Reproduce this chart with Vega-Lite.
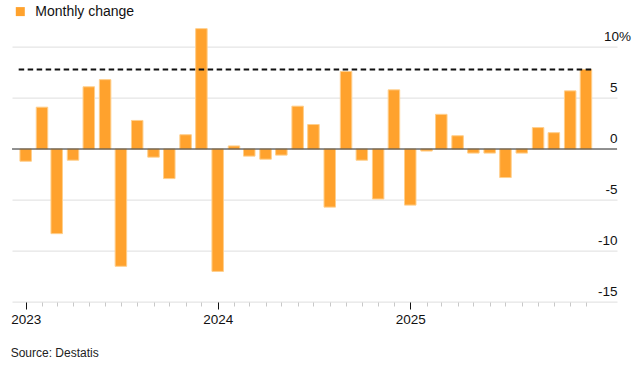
{
  "$schema": "https://vega.github.io/schema/vega-lite/v6.json",
  "width": 605,
  "height": 275.4,
  "autosize": {"type": "none"},
  "padding": {"left": 12, "top": 26.6, "right": 25, "bottom": 65},
  "background": "white",
  "config": {"font": "Liberation Sans", "view": {"stroke": null}},
  "title": {"text": "Source: Destatis", "orient": "bottom", "anchor": "start", "fontSize": 12, "fontWeight": "normal", "color": "#222", "offset": 22},
  "datasets": {
    "monthly": [
      {"month": "2023-01-01", "change": -1.2},
      {"month": "2023-02-01", "change": 4.1},
      {"month": "2023-03-01", "change": -8.3},
      {"month": "2023-04-01", "change": -1.1},
      {"month": "2023-05-01", "change": 6.1},
      {"month": "2023-06-01", "change": 6.8},
      {"month": "2023-07-01", "change": -11.5},
      {"month": "2023-08-01", "change": 2.8},
      {"month": "2023-09-01", "change": -0.8},
      {"month": "2023-10-01", "change": -2.9},
      {"month": "2023-11-01", "change": 1.4},
      {"month": "2023-12-01", "change": 11.8},
      {"month": "2024-01-01", "change": -12.0},
      {"month": "2024-02-01", "change": 0.3},
      {"month": "2024-03-01", "change": -0.7},
      {"month": "2024-04-01", "change": -1.0},
      {"month": "2024-05-01", "change": -0.6},
      {"month": "2024-06-01", "change": 4.2},
      {"month": "2024-07-01", "change": 2.4},
      {"month": "2024-08-01", "change": -5.7},
      {"month": "2024-09-01", "change": 7.6},
      {"month": "2024-10-01", "change": -1.1},
      {"month": "2024-11-01", "change": -4.9},
      {"month": "2024-12-01", "change": 5.8},
      {"month": "2025-01-01", "change": -5.5},
      {"month": "2025-02-01", "change": -0.2},
      {"month": "2025-03-01", "change": 3.4},
      {"month": "2025-04-01", "change": 1.3},
      {"month": "2025-05-01", "change": -0.4},
      {"month": "2025-06-01", "change": -0.4},
      {"month": "2025-07-01", "change": -2.8},
      {"month": "2025-08-01", "change": -0.4},
      {"month": "2025-09-01", "change": 2.1},
      {"month": "2025-10-01", "change": 1.6},
      {"month": "2025-11-01", "change": 5.7},
      {"month": "2025-12-01", "change": 7.8}
    ],
    "zero": [{"value": 0}],
    "level": [{"start": "2023-01-01", "end": "2025-12-01", "value": 7.8}]
  },
  "layer": [
    {
      "data": {"name": "monthly"},
      "mark": {"type": "bar", "size": 11.5, "stroke": "#ffcf8c", "strokeWidth": 1},
      "encoding": {
        "x": {
          "field": "month",
          "type": "temporal",
          "scale": {"type": "utc", "padding": 0, "domain": [{"year": 2022, "month": 12, "date": 6, "utc": true}, {"year": 2026, "month": 1, "date": 29, "utc": true}]},
          "axis": {
            "title": null,
            "domain": false,
            "grid": false,
            "tickCount": {"interval": "month", "step": 1},
            "labelExpr": "utcmonth(datum.value) == 0 && utcyear(datum.value) < 2026 ? utcFormat(datum.value, '%Y') : ''",
            "tickSize": {"condition": {"test": "utcmonth(datum.value) == 0", "value": 7}, "value": 4},
            "tickColor": {"condition": {"test": "utcmonth(datum.value) == 0", "value": "#111111"}, "value": "#c8c8c8"},
            "tickOpacity": {"condition": {"test": "utcyear(datum.value) >= 2026", "value": 0}, "value": 1},
            "tickWidth": 1,
            "labelFontSize": 13.5,
            "labelColor": "#111111",
            "labelPadding": 3,
            "labelFlush": false,
            "labelOverlap": false
          }
        },
        "y": {
          "field": "change",
          "type": "quantitative",
          "scale": {"domain": [-15, 12], "nice": false, "zero": false},
          "axis": {
            "orient": "right",
            "title": null,
            "values": [-15, -10, -5, 0, 5, 10],
            "domain": false,
            "ticks": false,
            "grid": true,
            "gridColor": "#dedede",
            "gridWidth": 1,
            "labelAlign": {"condition": {"test": "datum.value == 10", "value": "center"}, "value": "right"},
            "labelBaseline": "alphabetic",
            "labelOffset": -7,
            "labelPadding": 0,
            "labelExpr": "datum.value == 10 ? '10%' : '' + datum.value",
            "labelFontSize": 13.5,
            "labelColor": "#111111"
          }
        },
        "color": {
          "datum": "Monthly change",
          "type": "nominal",
          "scale": {"range": ["#ffa22d"]},
          "legend": {
            "title": null,
            "orient": "none",
            "legendX": 1.3,
            "legendY": -22,
            "symbolType": "square",
            "symbolSize": 81,
            "symbolStrokeWidth": 0,
            "labelFontSize": 14,
            "labelColor": "#111111",
            "labelOffset": 8,
            "padding": 0
          }
        }
      }
    },
    {
      "data": {"name": "zero"},
      "mark": {"type": "rule", "color": "#333333", "strokeWidth": 1.2},
      "encoding": {"y": {"field": "value", "type": "quantitative"}}
    },
    {
      "data": {"name": "level"},
      "mark": {"type": "rule", "color": "#111111", "strokeWidth": 2, "strokeDash": [5.5, 3.5], "xOffset": -7, "x2Offset": 6},
      "encoding": {
        "x": {"field": "start", "type": "temporal"},
        "x2": {"field": "end"},
        "y": {"field": "value", "type": "quantitative"}
      }
    }
  ]
}
